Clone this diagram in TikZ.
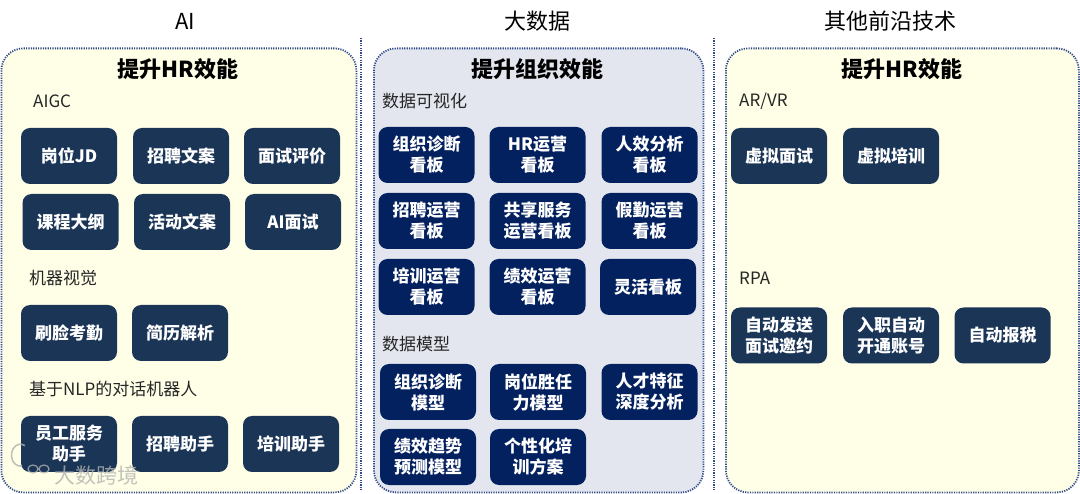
\documentclass[tikz,border=0pt]{standalone}
\usepackage{fontspec}
\setmainfont{Noto Sans CJK SC}
\usepackage{tikz}
\usetikzlibrary{positioning}
\definecolor{aiyellow}{HTML}{FFFFE8}
\definecolor{datagray}{HTML}{E3E6EF}
\definecolor{navyblue}{HTML}{1B3557}
\definecolor{deepblue}{HTML}{04215F}
\definecolor{dotblue}{HTML}{2F4A86}

\begin{document}
\lineskiplimit=-20pt
\begin{tikzpicture}[
    x=1pt, y=-1pt,
    heading/.style={font=\fontsize{22}{26}\selectfont, inner sep=0pt},
    paneltitle/.style={font=\fontsize{22}{26}\selectfont\bfseries, inner sep=0pt},
    grouplabel/.style={font=\fontsize{17}{20}\selectfont, text=black!85, anchor=west, inner sep=0pt},
    panel/.style={draw=dotblue, line width=1.8pt, dash pattern=on 1.2pt off 1.2pt, rounded corners=22pt, anchor=north west},
    darkbox/.style={fill=navyblue, rounded corners=9pt, minimum width=96pt, minimum height=56pt, inner sep=0pt,
                    align=center, text=white, font=\fontsize{17}{21}\selectfont\bfseries},
    bluebox/.style={darkbox, fill=deepblue},
    divider/.style={draw=dotblue, line width=1.8pt, dash pattern=on 1.2pt off 1.2pt}
]
\useasboundingbox (0,0) rectangle (1080,494);

% --- panels ---
\node[panel, fill=aiyellow, minimum width=355pt, minimum height=444pt] (aipanel) at (0.5,47.5) {};
\node[panel, fill=datagray, minimum width=329.5pt, minimum height=444pt] (datapanel) at (373,47.5) {};
\node[panel, fill=aiyellow, minimum width=353pt, minimum height=444pt] (techpanel) at (725,47.5) {};

% --- dividers ---
\coordinate (div1a) at (361,38);
\coordinate (div1b) at (361,490);
\coordinate (div2a) at (714,38);
\coordinate (div2b) at (714,490);
\draw[divider] (div1a) -- (div1b);
\draw[divider] (div2a) -- (div2b);

% --- headings ---
\node[heading] (aihead) at (185,21) {AI};
\node[heading] (datahead) at (537,21) {大数据};
\node[heading] (techhead) at (890,21) {其他前沿技术};
\node[paneltitle] (aititle) at (178,69.5) {提升HR效能};
\node[paneltitle] (datatitle) at (537.5,69.5) {提升组织效能};
\node[paneltitle] (techtitle) at (902,69.5) {提升HR效能};

% --- AI column ---
\node[grouplabel] (aigc) at (33,101) {AIGC};
\node[darkbox] (jd) at (69,156) {岗位JD};
\node[darkbox] (copy) at (181,156) {招聘文案};
\node[darkbox] (review) at (292,156) {面试评价};
\node[darkbox] (course) at (70.5,222) {课程大纲};
\node[darkbox] (event) at (182,222) {活动文案};
\node[darkbox] (aiview) at (293,222) {AI面试};
\node[grouplabel] (vision) at (29,278) {机器视觉};
\node[darkbox] (face) at (69,333) {刷脸考勤};
\node[darkbox] (resume) at (180,333) {简历解析};
\node[grouplabel] (nlp) at (29,389) {基于NLP的对话机器人};
\node[darkbox] (staffbot) at (69,444) {员工服务\\助手};
\node[darkbox] (hirebot) at (180,444) {招聘助手};
\node[darkbox] (trainbot) at (291,444) {培训助手};

% --- big data column ---
\node[grouplabel] (visual) at (382,101) {数据可视化};
\node[bluebox] (orgboard) at (426.5,155) {组织诊断\\看板};
\node[bluebox] (hrboard) at (537.5,155) {HR运营\\看板};
\node[bluebox] (effboard) at (649.5,155) {人效分析\\看板};
\node[bluebox] (hireboard) at (426.5,221) {招聘运营\\看板};
\node[bluebox] (shareboard) at (537.5,221) {共享服务\\运营看板};
\node[bluebox] (leaveboard) at (649.5,221) {假勤运营\\看板};
\node[bluebox] (trainboard) at (426.5,287) {培训运营\\看板};
\node[bluebox] (perfboard) at (537.5,287) {绩效运营\\看板};
\node[bluebox] (flexboard) at (648,287) {灵活看板};
\node[grouplabel] (model) at (382,344) {数据模型};
\node[bluebox] (orgmodel) at (428,392) {组织诊断\\模型};
\node[bluebox] (fitmodel) at (538,392) {岗位胜任\\力模型};
\node[bluebox] (talentmodel) at (649.5,392) {人才特征\\深度分析};
\node[bluebox] (trendmodel) at (428,457) {绩效趋势\\预测模型};
\node[bluebox] (planmodel) at (538,457) {个性化培\\训方案};

% --- other tech column ---
\node[grouplabel] (arvr) at (739,101) {AR/VR};
\node[darkbox] (vrview) at (779,156) {虚拟面试};
\node[darkbox] (vrtrain) at (891,156) {虚拟培训};
\node[grouplabel] (rpa) at (739,278) {RPA};
\node[darkbox] (autosend) at (779,335.5) {自动发送\\面试邀约};
\node[darkbox] (autoacct) at (891,335.5) {入职自动\\开通账号};
\node[darkbox] (autotax) at (1002.5,335.5) {自动报税};

% --- watermark ---
\node[font=\fontsize{21}{24}\selectfont, text=black!30, opacity=0.8, inner sep=0pt] (mark) at (96,475) {大数跨境};
\draw[black!30, line width=1.6pt, opacity=0.8] (22,466) arc (80:300:9 and 11);
\draw[black!30, line width=1.2pt, opacity=0.8] (33,469) ellipse (5 and 4) (44,469) ellipse (5 and 4);

\end{tikzpicture}
\end{document}
